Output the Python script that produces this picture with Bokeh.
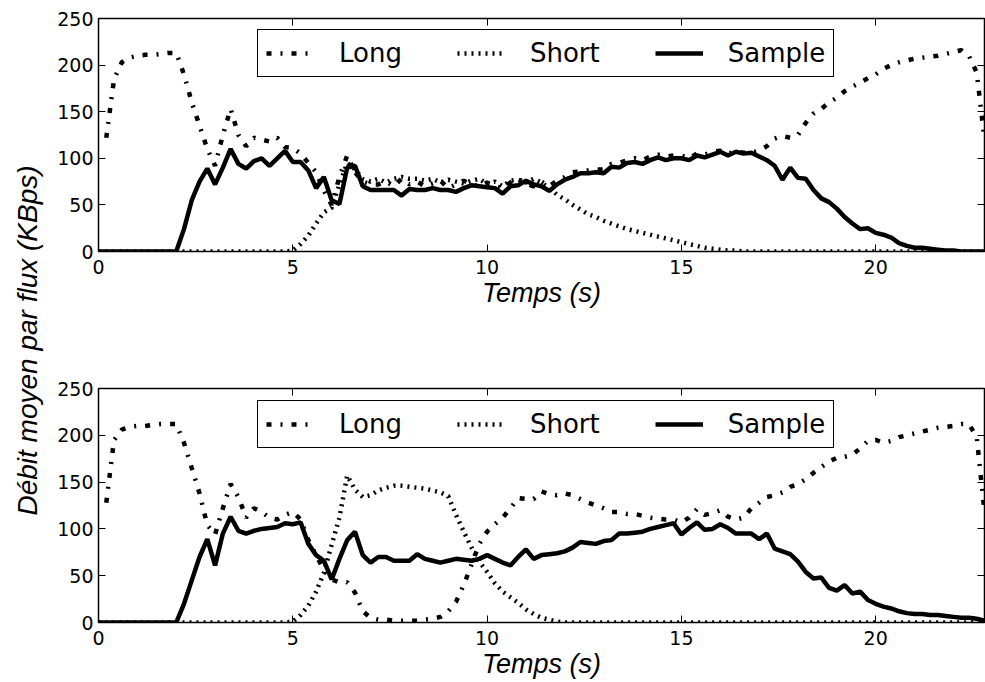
import numpy as np
from math import pi
from bokeh.plotting import figure
from bokeh.layouts import row, column
from bokeh.models import (Range1d, LinearAxis, FixedTicker, Legend, LegendItem,
                          Label, CustomJSTickFormatter)
from bokeh.embed import file_html
from bokeh.resources import INLINE

nan = float("nan")

# sampling instants (s), one sample every 0.2 s
time_s = np.round(np.arange(115) * 0.2, 1)

x_ticks = [0, 5, 10, 15, 20]
y_ticks = [0, 50, 100, 150, 200, 250]
series_names = ["Long", "Short", "Sample"]

# ---------------- top panel ----------------
long_top = [
    nan, 122, 185, 203, 208, 210, 211, 211, 212, 213,
    213, 190, 160, 135, 110, 92, 125, 153, 125, 113,
    122, 120, 118, 122, 112, 111, 105, 95, 85, 65,
    50, 80, 103, 85, 75, 72, 72, 75, 70, 78,
    72, 75, 70, 73, 76, 68, 72, 76, 72, 70,
    74, 70, 68, 74, 78, 73, 70, 75, 70, 76,
    80, 85, 86, 87, 88, 88, 94, 95, 98, 100,
    98, 102, 104, 102, 103, 103, 100, 105, 104, 107,
    108, 105, 107, 106, 106, 108, 113, 121, 124, 122,
    125, 138, 148, 153, 160, 165, 172, 177, 181, 186,
    190, 196, 200, 203, 205, 207, 208, 209, 210, 212,
    214, 216, 210, 192, 120,
]
short_top = [
    0, 0, 0, 0, 0, 0, 0, 0, 0, 0,
    0, 0, 0, 0, 0, 0, 0, 0, 0, 0,
    0, 0, 0, 0, 0, 1, 8, 17, 30, 42,
    47, 72, 95, 88, 78, 75, 78, 74, 78, 80,
    78, 78, 76, 78, 74, 77, 75, 73, 76, 78,
    72, 75, 70, 76, 77, 74, 78, 74, 68, 61,
    56, 50, 45, 40, 37, 33, 30, 27, 24, 22,
    20, 18, 16, 14, 12, 10, 8, 6, 4, 3,
    2, 1, 1, 0, 0, 0, 0, 0, 0, 0,
    0, 0, 0, 0, 0, 0, 0, 0, 0, 0,
    0, 0, 0, 0, 0, 0, 0, 0, 0, 0,
    0, 0, 0, 0, 0,
]
sample_top = [
    0, 0, 0, 0, 0, 0, 0, 0, 0, 0,
    0, 24, 55, 75, 89, 72, 90, 110, 94, 89,
    97, 100, 92, 100, 108, 96, 96, 87, 68, 80,
    55, 51, 90, 92, 70, 66, 66, 66, 66, 60,
    67, 66, 66, 68, 66, 66, 64, 68, 71, 70,
    69, 68, 62, 70, 71, 76, 72, 70, 65, 72,
    77, 80, 84, 84, 85, 84, 91, 90, 95, 96,
    94, 98, 101, 98, 100, 100, 98, 103, 101, 104,
    107, 103, 107, 105, 106, 102, 98, 92, 77, 90,
    79, 78, 66, 57, 53, 46, 37, 30, 24, 25,
    20, 18, 15, 9, 6, 4, 4, 3, 2, 1,
    1, 0, 0, 0, 0,
]

# ---------------- bottom panel ----------------
long_bot = [
    nan, 128, 195, 206, 209, 210, 210, 211, 212, 212,
    212, 192, 165, 138, 104, 94, 122, 148, 134, 112,
    122, 118, 112, 110, 115, 118, 110, 88, 72, 56,
    46, 43, 43, 32, 12, 5, 3, 3, 2, 2,
    2, 2, 3, 4, 6, 12, 22, 40, 62, 84,
    97, 105, 112, 122, 133, 132, 132, 140, 137, 136,
    138, 136, 132, 128, 125, 122, 118, 118, 116, 116,
    114, 112, 111, 110, 110, 107, 112, 121, 115, 117,
    120, 113, 110, 112, 122, 128, 134, 136, 139, 145,
    148, 153, 160, 166, 172, 176, 177, 179, 186, 194,
    195, 192, 194, 198, 200, 202, 204, 206, 208, 209,
    210, 212, 212, 198, 118,
]
short_bot = [
    0, 0, 0, 0, 0, 0, 0, 0, 0, 0,
    0, 0, 0, 0, 0, 0, 0, 0, 0, 0,
    0, 0, 0, 0, 0, 1, 8, 18, 33, 53,
    83, 112, 157, 142, 134, 136, 141, 144, 146, 146,
    145, 144, 143, 141, 139, 135, 115, 97, 80, 65,
    54, 42, 33, 27, 21, 14, 9, 5, 3, 1,
    0, 0, 0, 0, 0, 0, 0, 0, 0, 0,
    0, 0, 0, 0, 0, 0, 0, 0, 0, 0,
    0, 0, 0, 0, 0, 0, 0, 0, 0, 0,
    0, 0, 0, 0, 0, 0, 0, 0, 0, 0,
    0, 0, 0, 0, 0, 0, 0, 0, 0, 0,
    0, 0, 0, 0, 0,
]
sample_bot = [
    0, 0, 0, 0, 0, 0, 0, 0, 0, 0,
    0, 20, 45, 70, 89, 61, 95, 113, 98, 95,
    98, 100, 101, 102, 106, 105, 107, 84, 72, 66,
    46, 68, 88, 97, 72, 64, 70, 70, 66, 66,
    66, 73, 68, 66, 64, 66, 68, 67, 66, 68,
    72, 68, 64, 61, 70, 78, 68, 72, 73, 74,
    76, 80, 86, 85, 84, 87, 88, 95, 95, 96,
    97, 100, 102, 104, 106, 94, 101, 107, 99, 100,
    105, 101, 95, 95, 95, 89, 95, 79, 76, 73,
    65, 54, 47, 48, 37, 34, 40, 31, 33, 24,
    20, 17, 15, 12, 10, 9, 9, 8, 8, 7,
    6, 5, 5, 4, 2,
]

TICK_FONT = "DejaVu Sans"
LABEL_FONT = "Liberation Sans"


def style_axis(ax, ticks, show_labels):
    ax.ticker = FixedTicker(ticks=ticks)
    ax.axis_line_color = None
    ax.major_tick_in = 7
    ax.major_tick_out = 0
    ax.minor_tick_line_color = None
    ax.major_tick_line_color = "black"
    ax.major_tick_line_width = 1
    if show_labels:
        ax.major_label_text_font = TICK_FONT
        ax.major_label_text_font_size = "19px"
        ax.major_label_text_color = "black"
        ax.major_label_standoff = 5
    else:
        ax.formatter = CustomJSTickFormatter(code="return ''")
        ax.major_label_text_font_size = "0px"
        ax.major_label_standoff = 0


def make_panel(long_v, short_v, sample_v, height, top, bottom, legend_y):
    p = figure(width=937, height=height, output_backend="svg", toolbar_location=None,
               x_range=Range1d(0, 22.8), y_range=Range1d(0, 250),
               min_border_left=50, min_border_right=1,
               min_border_top=top, min_border_bottom=bottom)
    p.xgrid.visible = False
    p.ygrid.visible = False
    p.outline_line_color = "black"
    p.outline_line_width = 1.5
    p.outline_line_alpha = 1.0
    p.background_fill_color = "white"
    p.border_fill_color = "white"

    style_axis(p.xaxis[0], x_ticks, True)
    style_axis(p.yaxis[0], y_ticks, True)
    p.xaxis[0].major_label_standoff = 8
    p.xaxis[0].axis_label = "Temps (s)"
    p.xaxis[0].axis_label_text_font = LABEL_FONT
    p.xaxis[0].axis_label_text_font_style = "italic"
    p.xaxis[0].axis_label_text_font_size = "27px"
    p.xaxis[0].axis_label_text_color = "black"
    p.xaxis[0].axis_label_standoff = 1

    top_ax = LinearAxis()
    style_axis(top_ax, x_ticks, False)
    p.add_layout(top_ax, "above")
    right_ax = LinearAxis()
    style_axis(right_ax, y_ticks, False)
    p.add_layout(right_ax, "right")

    r_long = p.line(time_s, long_v, line_color="black", line_width=4.5,
                    line_dash="5 9 2 9")
    r_short = p.line(time_s, short_v, line_color="black", line_width=4.5,
                     line_dash="2 5")
    r_sample = p.line(time_s, sample_v, line_color="black", line_width=4.5)

    legend = Legend(
        items=[LegendItem(label=series_names[0], renderers=[r_long]),
               LegendItem(label=series_names[1], renderers=[r_short]),
               LegendItem(label=series_names[2], renderers=[r_sample])],
        orientation="horizontal", location=(159, legend_y),
        glyph_width=48, glyph_height=20, label_standoff=25, spacing=55,
        padding=8, margin=0,
        border_line_color="black", border_line_width=1.5, border_line_alpha=1.0,
        background_fill_color="white", background_fill_alpha=1.0,
        label_text_font=TICK_FONT, label_text_font_size="26px",
        label_text_color="black")
    p.add_layout(legend)
    return p


p1 = make_panel(long_top, short_top, sample_top, height=320, top=18, bottom=69,
                legend_y=174)
p2 = make_panel(long_bot, short_bot, sample_bot, height=362, top=68, bottom=60,
                legend_y=174)

lab = figure(width=48, height=682, output_backend="svg", toolbar_location=None,
             x_axis_location=None, y_axis_location=None, min_border=0,
             x_range=Range1d(0, 1), y_range=Range1d(0, 1))
lab.grid.visible = False
lab.outline_line_color = None
lab.add_layout(Label(x=27, y=342, x_units="screen", y_units="screen",
                     text="Débit moyen par flux (KBps)", angle=pi / 2,
                     text_align="center", text_baseline="middle",
                     text_font=LABEL_FONT, text_font_style="italic",
                     text_font_size="28px", text_color="black"))

layout = row(lab, column(p1, p2))

open("out.html", "w").write(file_html(layout, INLINE))
